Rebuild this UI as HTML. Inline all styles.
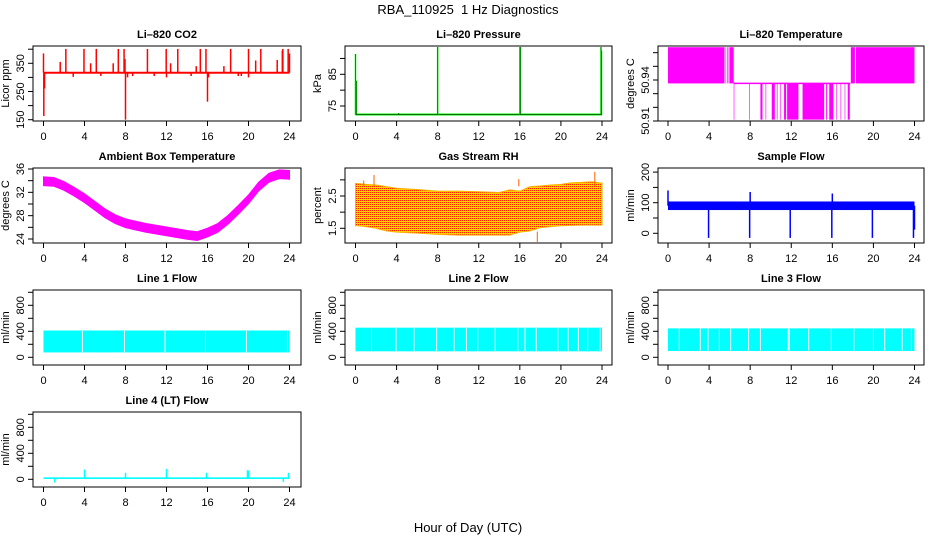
<!DOCTYPE html>
<html><head><meta charset="utf-8"><style>
html,body{margin:0;padding:0;background:#fff;}
svg{display:block;font-family:"Liberation Sans",Arial,sans-serif;}
</style></head><body>
<svg id="chart" width="936" height="540" viewBox="0 0 936 540" xmlns="http://www.w3.org/2000/svg">
<defs>
<pattern id="rhpat" width="2" height="2" patternUnits="userSpaceOnUse">
<rect width="2" height="2" fill="#ffd000"/><rect width="1" height="1" fill="#ff2000"/>
</pattern>
</defs>
<text x="468" y="14" font-size="13" text-anchor="middle" xml:space="preserve">RBA_110925  1 Hz Diagnostics</text>
<text x="468" y="532" font-size="13" text-anchor="middle">Hour of Day (UTC)</text>
</svg>
<script>
// ---------- data ----------
const xTicks = [0,4,8,12,16,20,24];
// CO2 (ppm)
const co2Base = [313, 320];
const co2SpikeHours = [0.0,0.03,0.1,1.63,2.18,2.9,3.95,4.6,5.15,5.6,6.8,7.3,7.86,7.95,8.0,8.2,8.7,10.14,10.8,11.97,12.0,12.4,13.1,14.4,14.9,15.3,15.85,16.0,16.1,17.6,18.26,19.0,19.3,20.0,20.0,20.7,21.2,22.8,23.3,23.35,23.87,24.0];
const co2SpikeVals  = [385,163,261,355,401,302,401,350,401,305,350,401,401,365,150,300,305,401,305,401,300,350,401,305,340,401,401,214,300,340,401,305,305,401,300,360,401,362,395,401,401,385];
// Pressure (kPa)
const presBase = 72.3;
const presSpikeHours = [0.0,0.08,4.2,8.0,16.0,16.05,23.9,23.95];
const presSpikeVals  = [91.4,83.0,72.8,93.7,93.7,93.7,93.7,92.5];
// Li-820 temperature (deg C)
const tempMid = 50.9375;
const tempStart = [0.0,5.6,5.75,5.9,6.0,6.4,7.9,9.0,9.5,10.1,10.6,10.9,11.3,11.6,13.1,15.4,15.7,16.4,16.8,17.2,17.5,17.8,18.3];
const tempEnd   = [5.5,5.65,5.8,5.95,6.4,6.45,7.95,9.2,9.55,10.4,10.65,10.95,11.5,12.7,15.2,15.5,16.1,16.45,16.85,17.25,17.7,18.2,24.0];
const tempVal   = [50.964,50.964,50.964,50.964,50.964,50.911,50.911,50.911,50.911,50.911,50.911,50.911,50.911,50.911,50.911,50.911,50.911,50.911,50.911,50.911,50.911,50.964,50.964];
// Ambient box temperature
const ambHours = [0,1,2,3,4,5,6,7,8,9,10,11,12,13,14,15,16,17,18,19,20,21,22,23,24];
const ambVals  = [33.9,33.8,33.1,32.1,31.0,29.7,28.4,27.4,26.7,26.3,25.9,25.6,25.3,25.0,24.7,24.5,25.1,25.9,27.3,29.0,30.8,33.0,34.5,35.1,35.0];
const ambHalfWidth = 0.75;
// Gas stream RH (percent)
const rhHours = [0,1,2,3,4,6,8,10,12,14,15,16,17,18,19,20,21,22,23,24];
const rhTop   = [2.89,2.86,2.84,2.79,2.74,2.70,2.65,2.65,2.63,2.61,2.69,2.65,2.79,2.81,2.84,2.86,2.91,2.92,2.94,2.9];
const rhBot   = [1.58,1.55,1.50,1.42,1.38,1.35,1.31,1.29,1.29,1.29,1.29,1.38,1.42,1.52,1.55,1.58,1.59,1.60,1.60,1.60];
const rhSpikeHours = [0.8,1.8,15.9,17.7,23.3];
const rhSpikeVals  = [2.98,3.15,3.02,1.02,3.25];
// Sample flow (ml/min)
const sfBand = [76,104];
const sfSpikeHours = [0.0,3.95,7.95,8.0,11.9,15.95,16.0,19.9,23.9,24.0];
const sfSpikeVals  = [140,-15,-15,135,-15,-15,130,-15,-15,12];
// Line flows (ml/min)
const l1Band = [75,412];
const l1Gaps = [3.8,7.9,11.85,15.8,19.8,23.8];
const l2Band = [92,456];
const l2Gaps = [1.56,3.9,3.95,5.7,7.9,9.6,10.8,11.9,13.6,15.8,16.5,17.6,19.7,20.7,21.7,22.6,23.8];
const l3Band = [97,445];
const l3Gaps = [1.1,3.15,3.85,3.9,5.0,6.1,7.85,9.0,11.7,11.8,13.7,15.9,18.1,20.0,21.1,22.8,23.7];
const l4Band = [5,30];
const l4SpikeHours = [1.1,4.0,8.0,12.0,15.9,19.9,20.0,23.4,23.9];
const l4SpikeVals  = [-50,150,100,160,100,140,135,-40,100];

// ---------- layout ----------
const svg = document.getElementById('chart');
const NS = 'http://www.w3.org/2000/svg';
const colL=[33,345,658], colR=[301,612,924], colX0=[43.5,355.5,668], colX24=[289.5,602,914.5];
function el(tag, attrs, parent){const e=document.createElementNS(NS,tag);for(const k in attrs)e.setAttribute(k,attrs[k]);(parent||svg).appendChild(e);return e;}

const panels = [
 {key:'co2',title:'Li\u2013820 CO2',ylab:'Licor ppm',c:0,r:0,v0:150,p0:73.7,v1:350,p1:17.3,ticks:[150,200,250,300,350,400],labs:[150,250,350]},
 {key:'pres',title:'Li\u2013820 Pressure',ylab:'kPa',c:1,r:0,v0:75,p0:60,v1:85,p1:28.3,ticks:[75,80,85,90],labs:[75,85]},
 {key:'temp',title:'Li\u2013820 Temperature',ylab:'degrees C',c:2,r:0,v0:50.91,p0:75,v1:50.94,p1:34,ticks:[50.91,50.92,50.93,50.94,50.95,50.96],labs:[50.91,50.94]},
 {key:'amb',title:'Ambient Box Temperature',ylab:'degrees C',c:0,r:1,v0:24,p0:71,v1:36,p1:1,ticks:[24,26,28,30,32,34,36],labs:[24,28,32,36]},
 {key:'rh',title:'Gas Stream RH',ylab:'percent',c:1,r:1,v0:1.5,p0:60.3,v1:2.5,p1:28,ticks:[1.5,2,2.5,3],labs:[1.5,2.5]},
 {key:'sf',title:'Sample Flow',ylab:'ml/min',c:2,r:1,v0:0,p0:65.3,v1:100,p1:34.7,ticks:[0,50,100,150,200],labs:[0,100,200]},
 {key:'l1',title:'Line 1 Flow',ylab:'ml/min',c:0,r:2,v0:0,p0:67.3,v1:400,p1:41.3,ticks:[0,200,400,600,800,1000],labs:[0,400,800]},
 {key:'l2',title:'Line 2 Flow',ylab:'ml/min',c:1,r:2,v0:0,p0:67.3,v1:400,p1:41.3,ticks:[0,200,400,600,800,1000],labs:[0,400,800]},
 {key:'l3',title:'Line 3 Flow',ylab:'ml/min',c:2,r:2,v0:0,p0:67.3,v1:400,p1:41.3,ticks:[0,200,400,600,800,1000],labs:[0,400,800]},
 {key:'l4',title:'Line 4 (LT) Flow',ylab:'ml/min',c:0,r:3,v0:0,p0:67.3,v1:400,p1:41.3,ticks:[0,200,400,600,800,1000],labs:[0,400,800]}
];
const P = {};
panels.forEach(p=>{
  p.top=46+122*p.r; p.bot=121+122*p.r; p.L=colL[p.c]; p.R=colR[p.c];
  p.x=h=>colX0[p.c]+(colX24[p.c]-colX0[p.c])*h/24;
  p.y=v=>p.top+p.p0+(v-p.v0)*(p.p1-p.p0)/(p.v1-p.v0);
  P[p.key]=p;
  const g=el('g',{});
  
  
  p.g=el('g',{},g);
  const t=el('text',{x:(p.L+p.R)/2,y:p.top-8,'font-size':11,'font-weight':'bold','text-anchor':'middle'},g);
  t.textContent=p.title;
  
  
  const yl=el('text',{x:p.L-24,y:(p.top+p.bot)/2,'font-size':11,'text-anchor':'middle',transform:`rotate(-90 ${p.L-24} ${(p.top+p.bot)/2})`},g);
  yl.textContent=p.ylab;
  
  
  const box=el('rect',{x:p.L,y:p.top,width:p.R-p.L,height:p.bot-p.top,fill:'none',stroke:'#000','stroke-width':1},g);
  
  
  el('line',{x1:p.x(0),x2:p.x(24),y1:p.bot,y2:p.bot,stroke:'#000'},g);
  xTicks.forEach(h=>{
    el('line',{x1:p.x(h),x2:p.x(h),y1:p.bot,y2:p.bot+5,stroke:'#000'},g);
    const tx=el('text',{x:p.x(h),y:p.bot+19,'font-size':11,'text-anchor':'middle'},g);
    tx.textContent=h;
    
    
  });
  p.ticks.forEach(v=>{
    el('line',{x1:p.L-5,x2:p.L,y1:p.y(v),y2:p.y(v),stroke:'#000'},g);
  });
  p.labs.forEach(v=>{
    const yy=p.y(v), xx=p.L-9;
    const ty=el('text',{x:xx,y:yy,'font-size':11,'text-anchor':'middle',transform:`rotate(-90 ${xx} ${yy})`},g);
    ty.textContent=v;
    
    
  });
});
function clipY(p,y){return Math.max(p.top+1,Math.min(p.bot-1,y));}
function vline(p,h,v1,v2,color,w,name){
  const l=el('line',{x1:p.x(h),x2:p.x(h),y1:clipY(p,p.y(v1)),y2:clipY(p,p.y(v2)),stroke:color,'stroke-width':w},p.g);
  
  
  return l;
}
function band(p,h1,h2,lo,hi,fill,name){
  const r=el('rect',{x:p.x(h1),y:p.y(hi),width:p.x(h2)-p.x(h1),height:p.y(lo)-p.y(hi),fill:fill},p.g);
  
  
  return r;
}
function polyBand(p,hs,tops,bots,fill,stroke,name){
  let pts=hs.map((h,i)=>p.x(h)+','+p.y(tops[i]));
  pts=pts.concat(hs.slice().reverse().map((h,i)=>p.x(h)+','+p.y(bots[hs.length-1-i])));
  const pg=el('polygon',{points:pts.join(' '),fill:fill,stroke:stroke||'none','stroke-width':1},p.g);
  
  
}

// CO2
(function(){const p=P.co2;
  band(p,0,24,co2Base[0],co2Base[1],'#ff0000','co2-series-band');
  const mid=(co2Base[0]+co2Base[1])/2;
  co2SpikeHours.forEach((h,i)=>vline(p,h,mid,co2SpikeVals[i],'#ff0000',1.5,'co2-spike'));
})();
// Pressure
(function(){const p=P.pres;
  const base=el('line',{x1:p.x(0),x2:p.x(24),y1:p.y(presBase),y2:p.y(presBase),stroke:'#00ee00','stroke-width':2},p.g);
  
  
  const dot=el('line',{x1:p.x(0),x2:p.x(24),y1:p.y(presBase),y2:p.y(presBase),stroke:'#000','stroke-width':1,'stroke-dasharray':'1,1'},p.g);
  
  
  presSpikeHours.forEach((h,i)=>{
    vline(p,h,presBase,presSpikeVals[i],'#00ee00',1.5,'pressure-spike');
    const d=vline(p,h,presBase,presSpikeVals[i],'#000',0.8,'pressure-spike-dots');
    d.setAttribute('stroke-dasharray','1,1');
  });
})();
// Li-820 temperature
(function(){const p=P.temp;
  const m=el('line',{x1:p.x(6.4),x2:p.x(17.75),y1:p.y(tempMid),y2:p.y(tempMid),stroke:'#ff00ff','stroke-width':1.5},p.g);
  
  
  tempStart.forEach((s,i)=>{
    const lo=Math.min(tempMid,tempVal[i]), hi=Math.max(tempMid,tempVal[i]);
    band(p,s,Math.max(tempEnd[i],s+0.06),lo,hi,'#ff00ff','temp-interval');
  });
})();
// Ambient
(function(){const p=P.amb;
  polyBand(p,ambHours,ambVals.map(v=>v+ambHalfWidth),ambVals.map(v=>v-ambHalfWidth),'#ff00ff','#ff00ff','ambient-temp-band');
})();
// RH
(function(){const p=P.rh;
  polyBand(p,rhHours,rhTop,rhBot,'url(#rhpat)','#ffb000','rh-band');
  rhSpikeHours.forEach((h,i)=>{
    const ref=rhSpikeVals[i]>2?2.8:1.4;
    vline(p,h,ref,rhSpikeVals[i],'#ff6000',1,'rh-spike');
  });
})();
// Sample flow
(function(){const p=P.sf;
  band(p,0,24,sfBand[0],sfBand[1],'#0000ff','sample-flow-band');
  sfSpikeHours.forEach((h,i)=>vline(p,h,(sfBand[0]+sfBand[1])/2,sfSpikeVals[i],'#0000ff',1.5,'sample-flow-spike'));
})();
// Line flows
function lineFlow(p,bandV,gaps,prefix){
  band(p,0,24,bandV[0],bandV[1],'#00ffff',prefix+'-band');
  gaps.forEach(h=>vline(p,h,bandV[0]+5,bandV[1]-5,'#ffffff',1,prefix+'-gap'));
}
lineFlow(P.l1,l1Band,l1Gaps,'line1-flow');
lineFlow(P.l2,l2Band,l2Gaps,'line2-flow');
lineFlow(P.l3,l3Band,l3Gaps,'line3-flow');
(function(){const p=P.l4;
  band(p,0,24,l4Band[0],l4Band[1],'#00ffff','line4-flow-band');
  l4SpikeHours.forEach((h,i)=>vline(p,h,(l4Band[0]+l4Band[1])/2,l4SpikeVals[i],'#00ffff',1.5,'line4-flow-spike'));
})();
</script>
</body></html>
